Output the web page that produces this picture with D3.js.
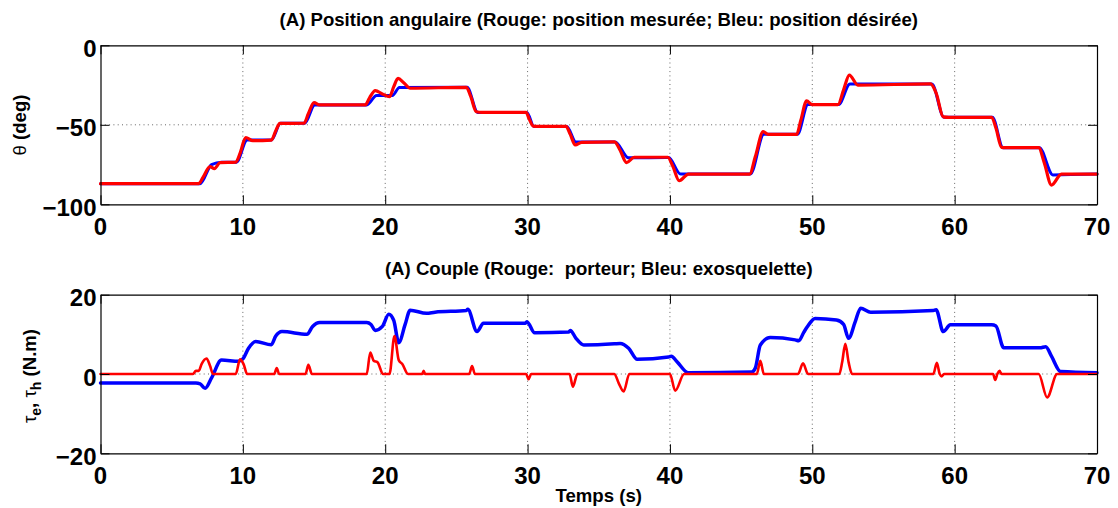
<!DOCTYPE html>
<html>
<head>
<meta charset="utf-8">
<script src="https://cdn.jsdelivr.net/npm/d3@7"></script>
<style>
  html, body { margin: 0; padding: 0; background: #fff; }
  svg { display: block; font-family: "Liberation Sans", Arial, Helvetica, sans-serif; }
</style>
</head>
<body>
<svg id="chart" width="1118" height="508"></svg>
<script>
// ---- Angular position (deg): measured (red) and desired (blue) ----
const posMeasuredT = [0, 6.9, 7.2, 7.7, 8.0, 8.4, 9.5, 9.8, 10.2, 10.7, 12.0, 12.3, 12.6, 14.3, 14.6, 15.0, 15.4, 18.6, 18.9, 19.3, 19.8, 20.3, 20.6, 20.9, 21.3, 21.75, 25.7, 26.0, 26.4, 26.8, 29.9, 30.1, 30.4, 30.7, 32.7, 33.0, 33.35, 33.8, 36.1, 36.5, 36.95, 37.5, 39.85, 40.2, 40.65, 41.3, 45.6, 46.0, 46.55, 46.9, 48.9, 49.2, 49.6, 50.0, 51.8, 52.2, 52.6, 53.2, 58.3, 58.7, 59.2, 59.6, 62.6, 62.9, 63.3, 63.6, 65.9, 66.3, 66.8, 67.5, 70];
const posMeasured  = [-87, -87, -83, -76.3, -77.5, -73.8, -73.5, -68, -58, -60, -59.6, -54, -49.1, -49, -43, -36.1, -37.5, -37.5, -33, -28.5, -30.6, -32.3, -26, -20.8, -23.5, -27, -26.4, -32, -41.8, -42.2, -42.2, -46, -50.8, -51, -51, -56, -62.7, -61, -60.8, -66, -73.8, -70.4, -70.4, -76, -85.2, -81, -81, -70, -54.3, -56, -56, -47, -35, -37.3, -37.3, -28, -18.7, -25, -24.3, -30, -45, -45.3, -45.3, -52, -64.2, -64.4, -64.4, -74, -87.9, -81, -81];

const posDesiredT = [0, 7.0, 7.8, 8.5, 9.55, 10.3, 12.0, 12.65, 14.35, 15.05, 18.7, 19.4, 20.5, 21.0, 25.75, 26.5, 29.95, 30.45, 32.75, 33.4, 36.15, 37.1, 39.9, 40.75, 45.65, 46.6, 48.95, 49.7, 51.85, 52.65, 58.4, 59.25, 62.65, 63.4, 65.95, 66.9, 70];
const posDesired  = [-87, -87, -75, -73.5, -73.5, -59.6, -59.6, -49, -49, -37.5, -37.5, -31.5, -31.5, -26.5, -26.4, -42.2, -42.2, -51, -51, -60.8, -60.8, -70.8, -70.6, -81, -81, -56, -56, -37.3, -37.3, -24.4, -24.3, -45.3, -45.3, -64.4, -64.4, -81.5, -81];

// ---- Torques (N.m): wearer (red) and exoskeleton (blue) ----
const torqueExoT = [0, 6.7, 7.0, 7.35, 7.8, 8.5, 9.7, 10.0, 10.4, 10.9, 12.0, 12.3, 12.75, 14.5, 14.9, 15.4, 18.7, 19.0, 19.3, 19.8, 20.25, 20.6, 20.95, 21.4, 21.75, 22.9, 23.5, 25.7, 25.8, 26.45, 26.9, 29.85, 29.95, 30.5, 32.9, 33.0, 33.4, 33.95, 36.1, 36.5, 37.1, 37.7, 39.9, 40.1, 40.5, 41.3, 45.75, 46.0, 46.35, 47.05, 48.8, 49.05, 49.4, 49.65, 50.2, 51.7, 52.2, 52.55, 53.0, 53.4, 54.1, 58.5, 58.7, 59.2, 59.7, 62.6, 62.9, 63.45, 66.0, 66.4, 66.8, 67.45, 70];
const torqueExo  = [-2.3, -2.3, -2.5, -3.6, -1, 3.5, 3.2, 3.8, 6.5, 8.2, 7.4, 9.5, 10.7, 10.0, 12.0, 13.0, 13.0, 12.5, 11.0, 12, 15.1, 13.5, 7.9, 12.5, 16.1, 15.3, 15.6, 16.0, 16.3, 10.7, 12.8, 12.8, 13.2, 10.4, 10.6, 11.0, 9.0, 7.3, 7.6, 7.7, 6.5, 3.7, 4.3, 4.5, 3.1, 0.3, 0.5, 1.5, 7.3, 9.2, 8.6, 8.4, 10.5, 11.9, 14.0, 13.6, 12.5, 9.0, 13.0, 16.6, 15.6, 16.0, 16.2, 10.7, 12.4, 12.4, 12.1, 6.6, 6.6, 6.9, 4.5, 0.6, 0.3];

const torqueHumanT = [0, 6.5, 6.7, 6.9, 7.1, 7.45, 7.7, 7.9, 9.5, 9.8, 10.05, 10.3, 12.2, 12.38, 12.55, 14.4, 14.6, 14.85, 18.7, 18.95, 19.2, 19.45, 19.85, 20.3, 20.65, 20.95, 21.2, 21.6, 22.6, 22.7, 22.8, 25.9, 26.1, 26.3, 29.9, 30.07, 30.25, 32.95, 33.18, 33.5, 36.1, 36.4, 36.75, 37.15, 40.0, 40.37, 41.0, 46.1, 46.35, 46.6, 49.0, 49.35, 49.7, 51.9, 52.1, 52.32, 52.55, 52.8, 58.5, 58.75, 58.95, 59.1, 59.25, 62.7, 62.85, 63.0, 63.15, 63.3, 63.45, 65.9, 66.5, 67.2, 70];
const torqueHuman  = [0, 0, 0.8, 0.8, 2.5, 3.9, 2, 0, 0, 3.7, 2.5, 0, 0, 1.5, 0, 0, 2.3, 0, 0, 5.4, 3.3, 3.0, 0, 0, 9.6, 3.5, 2.5, 0, 0, 0.8, 0, 0, 2, 0, 0, -1.3, 0, 0, -3.2, 0, 0, -2.3, -4.4, 0, 0, -4.2, 0, 0, 3.3, 0, 0, 2.7, 0, 0, 3, 7.6, 3, 0, 0, 2.8, 0, -0.6, 0, 0, -1.5, 0, 0.8, 0, 0, 0, -5.9, 0, 0];

// ---- Axis ticks ----
const xTicks = [0, 10, 20, 30, 40, 50, 60, 70];
const posTicks = [0, -50, -100];
const torqueTicks = [20, 0, -20];

const svg = d3.select("#chart");
const left = 100.5, right = 1097;
const x = d3.scaleLinear().domain([0, 70]).range([left, right]);
const labelSize = 18.6;

function panel(opts) {
  const y = d3.scaleLinear().domain(opts.domain).range([opts.bottom, opts.top]);
  const g = svg.append("g");

  // dotted grid
  const innerX = xTicks.filter(t => t > 0 && t < 70);
  const innerY = opts.ticks.filter(t => t !== opts.domain[0] && t !== opts.domain[1]);
  g.selectAll(".gx").data(innerX).join("line")
    .attr("x1", d => x(d)).attr("x2", d => x(d))
    .attr("y1", opts.top).attr("y2", opts.bottom)
    .attr("stroke", "#666").attr("stroke-width", 1).attr("stroke-dasharray", "1,3.3");
  g.selectAll(".gy").data(innerY).join("line")
    .attr("x1", left).attr("x2", right)
    .attr("y1", d => y(d)).attr("y2", d => y(d))
    .attr("stroke", "#666").attr("stroke-width", 1).attr("stroke-dasharray", "1,3.3");

  // series
  const line = d3.line().curve(d3.curveMonotoneX);
  opts.series.forEach(s => {
    const pts = s.t.map((t, i) => [x(t), y(s.v[i])]);
    g.append("path").attr("d", line(pts))
      .attr("fill", "none").attr("stroke", s.color)
      .attr("stroke-width", s.width).attr("stroke-linejoin", "round").attr("stroke-linecap", "round");
  });

  // box with inward ticks on all sides
  const tl = 9;
  const axB = d3.axisBottom(x).tickValues(xTicks).tickSizeInner(-tl).tickSizeOuter(0).tickFormat("");
  const axT = d3.axisTop(x).tickValues(xTicks).tickSizeInner(-tl).tickSizeOuter(0).tickFormat("");
  const axL = d3.axisLeft(y).tickValues(opts.ticks).tickSizeInner(-tl).tickSizeOuter(0).tickFormat("");
  const axR = d3.axisRight(y).tickValues(opts.ticks).tickSizeInner(-tl).tickSizeOuter(0).tickFormat("");
  [[axB, `translate(0,${opts.bottom})`], [axT, `translate(0,${opts.top})`],
   [axL, `translate(${left},0)`], [axR, `translate(${right},0)`]].forEach(([ax, tr]) => {
    const a = g.append("g").attr("transform", tr).call(ax);
    a.selectAll("path").attr("stroke", "#000").attr("stroke-width", 1.2);
    a.selectAll("line").attr("stroke", "#000").attr("stroke-width", 1);
  });

  // tick labels
  g.selectAll(".xl").data(xTicks).join("text")
    .attr("x", d => x(d)).attr("y", opts.bottom + 30.5)
    .attr("text-anchor", "middle").attr("font-size", 24).attr("font-weight", "bold")
    .text(d => d);
  g.selectAll(".yl").data(opts.ticks).join("text")
    .attr("x", 96.5).attr("y", d => y(d) + 11.5)
    .attr("text-anchor", "end").attr("font-size", 24).attr("font-weight", "bold")
    .text(d => d < 0 ? "\u2212" + Math.abs(d) : d);

  // title
  svg.append("text").attr("x", (left + right) / 2).attr("y", opts.top - 19.5)
    .attr("text-anchor", "middle").attr("font-size", labelSize).attr("font-weight", "bold")
    .attr("xml:space", "preserve")
    .text(opts.title);
  return y;
}

panel({
  top: 45.3, bottom: 204.3, domain: [-100, 0], ticks: posTicks,
  title: "(A) Position angulaire (Rouge: position mesurée; Bleu: position désirée)",
  series: [
    { t: posDesiredT, v: posDesired, color: "#0000ff", width: 3 },
    { t: posMeasuredT, v: posMeasured, color: "#ff0000", width: 3.2 }
  ]
});

panel({
  top: 294.7, bottom: 453.3, domain: [-20, 20], ticks: torqueTicks,
  title: "(A) Couple (Rouge:  porteur; Bleu: exosquelette)",
  series: [
    { t: torqueExoT, v: torqueExo, color: "#0000ff", width: 3.5 },
    { t: torqueHumanT, v: torqueHuman, color: "#ff0000", width: 2.6 }
  ]
});

// axis labels
const yl1 = svg.append("text").attr("transform", "translate(26,125) rotate(-90)")
  .attr("text-anchor", "middle").attr("font-size", labelSize).attr("font-weight", "bold");
yl1.append("tspan").attr("font-weight", "normal").text("\u03b8");
yl1.append("tspan").text(" (deg)");

const yl2 = svg.append("text").attr("transform", "translate(36,376) rotate(-90)")
  .attr("text-anchor", "middle").attr("font-size", labelSize).attr("font-weight", "bold");
yl2.append("tspan").attr("font-weight", "normal").text("\u03c4");
yl2.append("tspan").attr("font-size", 14).attr("dy", 5).text("e");
yl2.append("tspan").attr("dy", -5).text(", ");
yl2.append("tspan").attr("font-weight", "normal").text("\u03c4");
yl2.append("tspan").attr("font-size", 14).attr("dy", 5).text("h");
yl2.append("tspan").attr("dy", -5).text(" (N.m)");

svg.append("text").attr("x", (left + right) / 2).attr("y", 502)
  .attr("text-anchor", "middle").attr("font-size", labelSize).attr("font-weight", "bold")
  .text("Temps (s)");
</script>
</body>
</html>
